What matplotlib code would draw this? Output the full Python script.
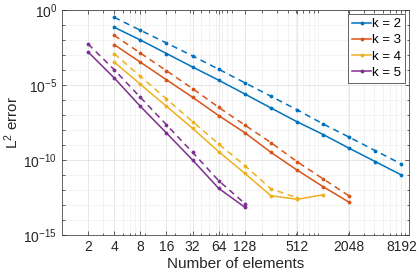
import matplotlib
matplotlib.use("Agg")
import matplotlib.pyplot as plt
import matplotlib.ticker as mticker
import numpy as np

plt.rcParams['font.family'] = ['Liberation Sans', 'DejaVu Sans']
plt.rcParams['mathtext.fontset'] = 'custom'
plt.rcParams['mathtext.rm'] = 'Liberation Sans'
plt.rcParams['mathtext.it'] = 'Liberation Sans'

# ---- data (log10 of error) ----
n2 = [4, 8, 16, 32, 64, 128, 256, 512, 1024, 2048, 4096, 8192]
k2_solid = [-1.15, -2.0, -2.9, -3.8, -4.68, -5.6, -6.53, -7.45, -8.3, -9.22, -10.11, -11.0]
k2_dash = [-0.49, -1.35, -2.2, -3.06, -3.95, -4.85, -5.75, -6.65, -7.6, -8.48, -9.38, -10.27]

n3 = [4, 8, 16, 32, 64, 128, 256, 512, 1024, 2048]
k3_solid = [-2.31, -3.48, -4.65, -5.82, -7.04, -8.18, -9.49, -10.67, -11.78, -12.82]
k3_dash = [-1.69, -2.87, -4.05, -5.24, -6.49, -7.67, -8.84, -10.11, -11.26, -12.4]

n4_solid = [4, 8, 16, 32, 64, 128, 256, 512, 1024]
k4_solid = [-3.47, -4.95, -6.42, -7.89, -9.44, -10.89, -12.38, -12.62, -12.32]
n4_dash = [4, 8, 16, 32, 64, 128, 256, 512]
k4_dash = [-2.91, -4.42, -5.93, -7.44, -8.93, -10.37, -11.92, -12.52]

n5 = [2, 4, 8, 16, 32, 64, 128]
k5_solid = [-2.8, -4.53, -6.42, -8.2, -10.0, -11.89, -13.15]
k5_dash = [-2.27, -3.98, -5.82, -7.65, -9.49, -11.38, -12.9]

labels = ['k = 2', 'k = 3', 'k = 4', 'k = 5']
colors = ['#0072BD', '#D95319', '#EDB120', '#7E2F8E']
xticks = [2, 4, 8, 16, 32, 64, 128, 512, 2048, 8192]

series = [
    (n2, k2_solid, n2, k2_dash),
    (n3, k3_solid, n3, k3_dash),
    (n4_solid, k4_solid, n4_dash, k4_dash),
    (n5, k5_solid, n5, k5_dash),
]

fig = plt.figure(figsize=(4.19, 2.77), dpi=100)
ax = fig.add_axes([62/419, 1 - 235/277, (409 - 62)/419, (235 - 10)/277])

lw = 1.1
ms = 3.5
handles = []
for (xs, ys, xd, yd), c, lab in zip(series, colors, labels):
    h, = ax.plot(xs, 10.0 ** np.array(ys), '-', marker='.', ms=ms, lw=lw, color=c, label=lab)
    ax.plot(xd, 10.0 ** np.array(yd), '--', marker='.', ms=ms, lw=lw, color=c, dashes=(4, 3))
    handles.append(h)

ax.set_xscale('log')
ax.set_yscale('log')
ax.set_xlim(1, 1e4)
ax.set_ylim(1e-15, 1e0)

ax.set_xticks(xticks)
ax.xaxis.set_major_formatter(mticker.FixedFormatter([str(v) for v in xticks]))
ax.xaxis.set_minor_locator(mticker.LogLocator(base=10, subs=np.arange(2, 10), numticks=20))
ax.xaxis.set_minor_formatter(mticker.NullFormatter())

ax.set_yticks([1e-15, 1e-10, 1e-5, 1e0])
ax.set_yticklabels([r'$\mathdefault{10^{-15}}$', r'$\mathdefault{10^{-10}}$',
                    r'$\mathdefault{10^{-5}}$', r'$\mathdefault{10^{0}}$'])
ax.yaxis.set_minor_locator(mticker.LogLocator(base=10, subs=[1.0], numticks=30))
ax.yaxis.set_minor_formatter(mticker.NullFormatter())

ax.grid(True, which='major', color='#e3e3e3', lw=0.6)
ax.grid(True, which='minor', color='#efefef', lw=0.5)
ax.set_axisbelow(True)

ax.tick_params(which='both', direction='in', top=True, right=True, colors='#262626',
               labelsize=10, labelcolor='#262626')
ax.tick_params(which='major', length=3, width=0.5)
ax.tick_params(which='minor', length=1.8, width=0.5)
for s in ax.spines.values():
    s.set_color('#262626')
    s.set_linewidth(0.5)

ax.set_xlabel('Number of elements', fontsize=11, color='#262626', labelpad=2)
ax.set_ylabel(r'L$^2$ error', fontsize=11, color='#262626', labelpad=2)

leg = ax.legend(handles=handles, loc='upper right', fontsize=9.5, handlelength=1.4,
                handletextpad=0.1, labelspacing=0.3, borderpad=0.3, borderaxespad=0.3,
                fancybox=False, framealpha=1, edgecolor='#262626')
leg.get_frame().set_linewidth(0.5)

fig.savefig('out.png', dpi=100)
